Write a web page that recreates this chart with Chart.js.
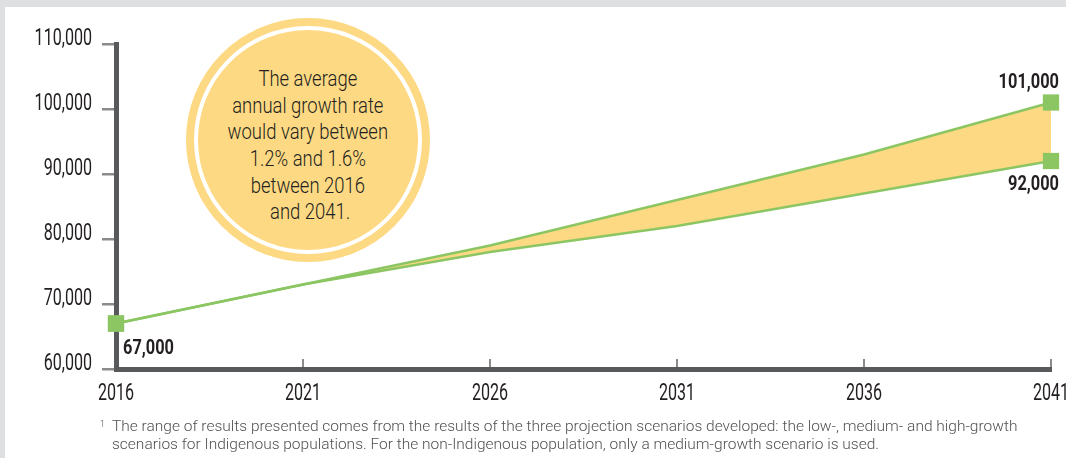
<!DOCTYPE html>
<html>
<head>
<meta charset="utf-8">
<script src="https://cdn.jsdelivr.net/npm/chart.js@4"></script>
<style>
  html, body { margin: 0; padding: 0; }
  body { width: 1066px; height: 458px; background: #dedfe1; position: relative; overflow: hidden; }
  #panel { position: absolute; left: 5px; top: 7px; right: 0; bottom: 0; background: #ffffff; }
  #wrap { position: absolute; left: 0; top: 0; width: 1066px; height: 458px; }
  #bubble { position: absolute; left: 186px; top: 18px; width: 244px; height: 244px; border-radius: 50%;
            background: #fdd983; box-sizing: border-box; padding: 8px; }
  #bubble .inner { width: 100%; height: 100%; border-radius: 50%; border: 4px solid #ffffff; box-sizing: border-box;
            background: #fdd983; display: flex; align-items: center; justify-content: center; text-align: center; }
  #bubble .txt { font-family: Roboto, sans-serif; font-weight: 300; font-size: 22.5px; line-height: 26.6px; color: #231f20;
            transform: scaleX(0.82); white-space: nowrap; margin-top: 10px; }
  #note { position: absolute; left: 112px; top: 417px; font-family: Roboto, 'Liberation Sans', sans-serif; font-weight: 300; font-size: 15.5px;
          line-height: 18px; color: #505153; white-space: nowrap; }
  #note sup { position: absolute; left: -12px; top: -2px; font-size: 9px; }
</style>
</head>
<body>
<div id="panel"></div>
<div id="bubble"><div class="inner"><div class="txt">The average<br>annual growth rate<br>would vary between<br>1.2% and 1.6%<br>between 2016<br>&nbsp;and 2041.</div></div></div>
<div id="wrap"><canvas id="c" width="1066" height="458"></canvas></div>
<div id="note"><sup>1</sup>The range of results presented comes from the results of the three projection scenarios developed: the low-, medium- and high-growth<br>scenarios for Indigenous populations. For the non-Indigenous population, only a medium-growth scenario is used.</div>
<script>
const years = ['2016', '2021', '2026', '2031', '2036', '2041'];
const highSeries = [67000, 73000, 79000, 86000, 93000, 101000];
const lowSeries  = [67000, 73000, 78000, 82000, 87000, 92000];
const yTicks = [60000, 70000, 80000, 90000, 100000, 110000];

const green = '#8cc663';
const yellow = '#fdd983';

function endPoint(ctx) {
  const n = ctx.dataset.data.length;
  return (ctx.dataIndex === 0 || ctx.dataIndex === n - 1) ? 11.5 : 0;
}

function drawScaled(c, text, x, y, sx, align) {
  c.save();
  c.translate(x, y);
  c.scale(sx, 1);
  c.textAlign = align;
  c.fillText(text, 0, 0);
  c.restore();
}

const decorPlugin = {
  id: 'decor',
  afterDraw(chart) {
    const c = chart.ctx;
    const x = chart.scales.x, y = chart.scales.y;
    const left = chart.chartArea.left, bottom = chart.chartArea.bottom;
    c.save();
    // inward x tick marks
    c.strokeStyle = '#8a8b8d';
    c.lineWidth = 2;
    for (let i = 1; i < years.length; i++) {
      const px = x.getPixelForValue(i);
      c.beginPath();
      c.moveTo(px, bottom - 2);
      c.lineTo(px, bottom - 10);
      c.stroke();
    }
    // tick labels (condensed look)
    c.fillStyle = '#231f20';
    c.textBaseline = 'alphabetic';
    c.font = "400 24px Roboto, sans-serif";
    yTicks.forEach(v => {
      drawScaled(c, v.toLocaleString('en-US'), left - 24, y.getPixelForValue(v) + 1, 0.67, 'right');
    });
    years.forEach((lab, i) => {
      drawScaled(c, lab, x.getPixelForValue(i), bottom + 31, 0.67, 'center');
    });
    // value labels
    c.font = "bold 21px Roboto, sans-serif";
    const last = years.length - 1;
    const x0 = x.getPixelForValue(0), xl = x.getPixelForValue(last);
    drawScaled(c, lowSeries[0].toLocaleString('en-US'), x0 + 7, y.getPixelForValue(lowSeries[0]) + 30, 0.78, 'left');
    drawScaled(c, highSeries[last].toLocaleString('en-US'), xl + 8, y.getPixelForValue(highSeries[last]) - 14.5, 0.78, 'right');
    drawScaled(c, lowSeries[last].toLocaleString('en-US'), xl + 8, y.getPixelForValue(lowSeries[last]) + 29, 0.78, 'right');
    c.restore();
  }
};

new Chart(document.getElementById('c'), {
  type: 'line',
  data: {
    labels: years,
    datasets: [
      {
        label: 'High',
        data: highSeries,
        borderColor: green,
        borderWidth: 2.5,
        backgroundColor: yellow,
        fill: '+1',
        tension: 0,
        pointStyle: 'rect',
        pointRadius: endPoint,
        pointHoverRadius: endPoint,
        pointBackgroundColor: green,
        pointBorderWidth: 0,
        clip: false
      },
      {
        label: 'Low',
        data: lowSeries,
        borderColor: green,
        borderWidth: 2.5,
        fill: false,
        tension: 0,
        pointStyle: 'rect',
        pointRadius: endPoint,
        pointHoverRadius: endPoint,
        pointBackgroundColor: green,
        pointBorderWidth: 0,
        clip: false
      }
    ]
  },
  options: {
    responsive: false,
    animation: false,
    events: [],
    layout: { autoPadding: false, padding: { top: 44, right: 15, bottom: 49, left: 0 } },
    plugins: {
      legend: { display: false },
      tooltip: { enabled: false },
      filler: { drawTime: 'beforeDatasetsDraw' }
    },
    scales: {
      x: {
        type: 'category',
        offset: false,
        afterFit: s => { s.height = 40; s.paddingLeft = 0; s.paddingRight = 0; },
        grid: { display: false, drawOnChartArea: false, drawTicks: false },
        border: { display: true, color: '#58595b', width: 5 },
        ticks: { display: false }
      },
      y: {
        min: 60000,
        max: 110000,
        afterFit: s => { s.width = 116; s.paddingTop = 0; s.paddingBottom = 0; },
        afterBuildTicks: s => { s.ticks = yTicks.map(v => ({ value: v })); },
        grid: { drawOnChartArea: false, drawTicks: true, tickLength: 14, color: '#8a8b8d', lineWidth: 2.5 },
        border: { display: true, color: '#58595b', width: 5 },
        ticks: { display: false }
      }
    }
  },
  plugins: [decorPlugin]
});
</script>
</body>
</html>
